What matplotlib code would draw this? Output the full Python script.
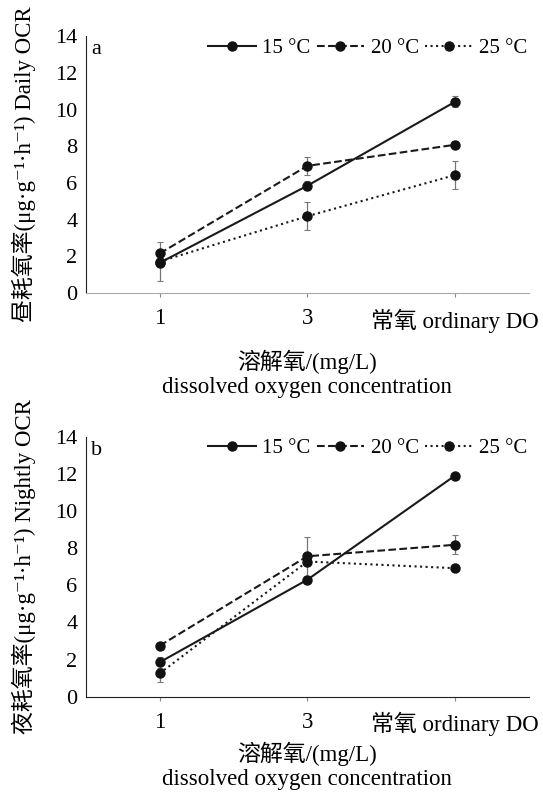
import numpy as np
import matplotlib
matplotlib.use("Agg")
import matplotlib.pyplot as plt

plt.rcParams['font.family'] = ['Liberation Serif', 'Noto Sans CJK SC', 'DejaVu Serif']

# data
categories = ['1', '3', '常氧 ordinary DO']
series = ['15 °C', '20 °C', '25 °C']

day_15 = [1.65, 5.85, 10.42]
day_20 = [2.16, 6.93, 8.08]
day_25 = [1.72, 4.19, 6.43]
day_15_err = [0.15, 0.25, 0.3]
day_20_err = [0.15, 0.5, 0.2]
day_25_err = [1.05, 0.75, 0.75]

night_15 = [1.86, 6.30, 11.90]
night_20 = [2.75, 7.56, 8.18]
night_25 = [1.26, 7.28, 6.92]
night_15_err = [0.3, 0.15, 0.1]
night_20_err = [0.15, 1.05, 0.5]
night_25_err = [0.45, 0.2, 0.15]

styles = ['-', '--', ':']
ylabels = ['昼耗氧率(μg·g⁻¹·h⁻¹) Daily OCR',
           '夜耗氧率(μg·g⁻¹·h⁻¹) Nightly OCR']
panels = ['a', 'b']


def draw_panel(ax, vals, errs, letter, ylabel, xpad, spine_col):
    x = np.arange(len(categories))
    handles = []
    for v, e, ls, name in zip(vals, errs, styles, series):
        ax.errorbar(x, v, yerr=e, fmt='none', ecolor='#777777',
                    elinewidth=0.9, capsize=2.5, capthick=0.8, zorder=2)
        h, = ax.plot(x, v, linestyle=ls, color='#1a1a1a', lw=1.5,
                     marker='o', markersize=6.5, markerfacecolor='#111111',
                     markeredgecolor='#111111', label=name, zorder=3)
        handles.append(h)
    ax.set_xlim(-0.5, 2.5)
    ax.set_ylim(0, 14)
    ax.set_yticks(range(0, 15, 2))
    ax.set_xticks(x)
    ax.set_xticklabels(categories)
    ax.tick_params(axis='y', length=0, labelsize=16, pad=6)
    ax.tick_params(axis='x', direction='out', length=3, color='#888888',
                   labelsize=16.5, pad=8)
    for s in ['top', 'right']:
        ax.spines[s].set_visible(False)
    ax.spines['left'].set_color('#222222')
    ax.spines['bottom'].set_color(spine_col)
    ax.text(0.012, 0.93, letter, transform=ax.transAxes, fontsize=16)
    ax.set_ylabel(ylabel, fontsize=16.5, labelpad=14)
    ax.set_xlabel('溶解氧/(mg/L)\ndissolved oxygen concentration',
                  fontsize=16.5, labelpad=xpad, linespacing=1.2)
    ax.legend(handles=handles, loc='upper right', bbox_to_anchor=(1.025, 1.04),
              ncol=3, frameon=False, fontsize=15, handlelength=2.3,
              handletextpad=0.3, columnspacing=0.3, borderaxespad=0.2)


fig = plt.figure(figsize=(5.43, 8.01), dpi=100)
ax1 = fig.add_axes([0.158, 0.634, 0.816, 0.321])
ax2 = fig.add_axes([0.158, 0.130, 0.816, 0.325])

draw_panel(ax1, [day_15, day_20, day_25],
           [day_15_err, day_20_err, day_25_err], panels[0], ylabels[0],
           12, '#aaaaaa')
draw_panel(ax2, [night_15, night_20, night_25],
           [night_15_err, night_20_err, night_25_err], panels[1], ylabels[1],
           4, '#222222')

fig.savefig('out.png', dpi=100)
